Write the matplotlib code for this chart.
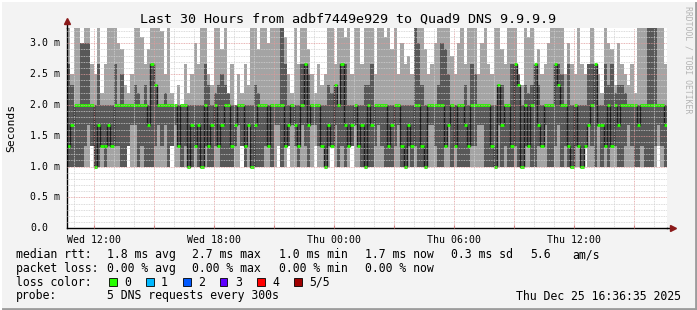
import numpy as np
import pandas as pd
import matplotlib
matplotlib.use("Agg")
import matplotlib.pyplot as plt
import matplotlib.dates as mdates
from matplotlib.ticker import MultipleLocator, FuncFormatter
from matplotlib.patches import Rectangle
from matplotlib.lines import Line2D

MONO = "DejaVu Sans Mono"

# 10 minute samples, Wed 24 Dec 10:40 -> Thu 25 Dec 16:40 (values in ms)
start = pd.Timestamp("2025-12-24 10:40")

median = [
    1.33, 1.67, 2.0, 2.0, 2.0, 2.0, 2.0, 2.0, 1.0, 1.67, 1.33, 1.33, 1.67, 1.33, 2.0, 2.0, 2.0, 2.0, 2.0, 2.0, 2.0, 2.0, 2.0, 2.0, 1.67, 2.67, 2.33, 2.0, 2.0, 2.0,
    2.0, 2.0, 2.0, 1.33, 2.0, 2.0, 1.0, 1.67, 1.33, 1.67, 1.0, 2.0, 1.33, 1.67, 2.0, 1.33, 1.67, 2.0, 2.0, 1.33, 1.67, 2.0, 2.0, 1.33, 1.67, 1.0, 1.67, 2.0, 2.0, 2.0,
    1.33, 2.0, 2.0, 2.0, 2.0, 1.33, 1.67, 2.0, 1.67, 1.33, 2.0, 2.67, 1.67, 2.0, 2.0, 2.0, 1.33, 1.0, 1.67, 1.33, 2.33, 2.0, 2.67, 1.67, 1.33, 1.67, 2.0, 1.33, 1.67, 1.0,
    2.0, 1.67, 2.0, 2.0, 2.0, 2.0, 1.33, 1.67, 2.0, 2.0, 1.33, 1.0, 1.67, 1.33, 2.0, 2.0, 1.33, 1.0, 2.0, 2.0, 2.0, 2.0, 2.0, 1.33, 1.67, 2.0, 1.33, 2.0, 2.0, 1.67,
    1.33, 2.0, 2.0, 2.0, 2.0, 2.0, 2.0, 1.33, 1.0, 2.33, 1.67, 2.0, 2.0, 1.33, 2.67, 2.33, 1.0, 2.0, 1.33, 2.0, 2.67, 1.67, 1.33, 2.0, 2.0, 2.0, 2.67, 2.33, 2.0, 2.0,
    1.33, 1.0, 2.0, 1.33, 1.0, 1.33, 1.67, 2.0, 2.67, 1.67, 1.67, 1.33, 2.0, 1.33, 2.0, 1.67, 2.0, 2.0, 2.0, 2.0, 2.0, 1.67, 2.0, 2.0, 2.0, 2.0, 2.0, 2.0, 2.0, 1.67,
]

# slowest ping (3.4 = off the top of the graph)
ping_max = [
    3.4, 2.5, 3.4, 3.4, 2.8, 3.4, 3.4, 2.67, 2.5, 3.4, 2.2, 2.67, 3.4, 3.4, 3.4, 3.0, 2.9, 2.33, 2.2, 2.5, 3.4, 3.4, 3.1, 2.67, 2.9, 3.4, 3.4, 3.4, 3.2, 2.5,
    3.4, 2.2, 2.0, 2.33, 2.0, 2.67, 2.2, 2.5, 3.0, 2.67, 3.4, 3.4, 2.5, 2.33, 3.4, 3.4, 2.9, 3.4, 2.2, 2.67, 2.0, 2.5, 2.2, 2.67, 2.33, 3.4, 3.4, 2.9, 3.4, 3.4,
    3.0, 3.4, 3.4, 3.4, 3.4, 3.1, 2.5, 2.2, 3.4, 2.67, 3.4, 3.4, 2.9, 2.5, 2.2, 2.67, 2.33, 2.5, 3.4, 3.4, 2.67, 3.4, 3.4, 3.1, 3.4, 2.5, 3.4, 3.4, 2.67, 3.4,
    3.4, 3.4, 2.5, 3.4, 3.4, 3.1, 3.4, 2.9, 3.4, 2.5, 3.0, 2.67, 2.8, 2.5, 3.4, 3.4, 3.4, 2.9, 2.5, 2.67, 3.0, 3.4, 3.4, 3.4, 3.4, 2.8, 2.5, 3.0, 3.4, 2.67,
    3.4, 3.4, 3.4, 2.5, 3.0, 3.4, 2.67, 2.5, 3.4, 3.4, 2.9, 2.67, 3.4, 3.4, 3.4, 2.5, 2.33, 3.4, 3.1, 3.4, 2.67, 2.9, 2.5, 2.67, 3.0, 3.4, 3.4, 3.4, 3.4, 2.5,
    3.0, 2.67, 2.5, 3.4, 2.67, 2.5, 2.33, 3.4, 2.67, 2.5, 2.2, 3.4, 3.0, 2.9, 2.33, 3.0, 2.67, 2.5, 2.33, 2.67, 2.2, 3.4, 3.4, 3.4, 3.4, 3.4, 3.1, 3.4, 3.4, 2.67,
]

# 4th ping (top of the dark smoke)
ping_hi = [
    2.67, 2.33, 2.0, 2.0, 3.0, 3.0, 3.0, 2.0, 2.0, 2.67, 2.0, 2.0, 2.0, 2.0, 2.67, 2.0, 2.5, 2.0, 2.0, 2.0, 2.33, 2.2, 2.0, 2.33, 2.0, 2.67, 2.33, 2.0, 2.0, 2.2,
    2.0, 2.0, 2.0, 2.0, 2.0, 2.0, 2.0, 2.0, 2.0, 2.0, 2.0, 2.67, 2.33, 2.0, 2.2, 2.33, 2.5, 2.33, 2.2, 2.0, 2.0, 2.0, 2.0, 2.0, 2.0, 2.0, 2.33, 2.2, 2.0, 2.0,
    2.0, 2.0, 2.0, 2.0, 3.4, 2.67, 2.0, 2.0, 2.0, 2.0, 2.67, 2.67, 2.5, 2.0, 2.0, 2.0, 2.0, 2.0, 2.33, 2.2, 2.0, 2.0, 2.67, 2.67, 2.0, 2.0, 2.0, 2.0, 2.0, 2.33,
    2.33, 2.67, 2.0, 2.0, 2.0, 2.0, 2.0, 2.0, 2.0, 2.0, 2.0, 2.0, 2.0, 2.0, 3.4, 3.0, 2.33, 2.0, 2.0, 2.0, 2.0, 2.33, 3.0, 2.9, 2.5, 2.0, 2.0, 2.0, 2.0, 2.33,
    2.0, 2.67, 2.5, 2.0, 2.0, 2.0, 2.0, 2.0, 2.0, 2.0, 2.33, 2.0, 2.0, 2.67, 2.67, 2.5, 2.0, 2.33, 2.2, 2.33, 2.67, 2.33, 2.0, 2.0, 2.0, 2.0, 2.0, 2.67, 2.5, 2.0,
    2.67, 2.0, 2.0, 2.0, 2.0, 2.0, 2.67, 2.67, 2.5, 2.0, 2.0, 2.67, 2.33, 2.67, 2.2, 2.33, 2.33, 2.2, 2.0, 2.0, 2.0, 2.0, 2.0, 2.0, 3.4, 3.4, 3.4, 2.0, 2.0, 2.0,
]

# 2nd ping (bottom of the dark smoke)
ping_lo = [
    1.0, 1.0, 1.0, 1.0, 1.0, 1.33, 1.67, 1.33, 1.0, 1.0, 1.33, 1.0, 1.33, 1.67, 1.33, 1.33, 1.0, 1.0, 1.33, 1.67, 1.67, 1.0, 1.33, 1.0, 1.0, 1.0, 1.33, 1.67, 1.33, 1.67,
    1.0, 1.33, 1.67, 1.67, 1.0, 1.33, 1.33, 1.0, 1.33, 1.0, 1.0, 1.33, 1.0, 1.0, 1.33, 1.67, 1.0, 1.0, 1.0, 1.0, 1.33, 1.67, 1.33, 1.0, 1.67, 1.0, 1.0, 1.0, 1.0, 1.33,
    1.33, 1.0, 1.67, 1.67, 1.0, 1.33, 1.33, 1.67, 1.33, 1.0, 1.67, 1.33, 1.0, 1.67, 1.67, 1.33, 1.33, 1.0, 1.33, 1.67, 1.67, 1.0, 1.33, 1.0, 1.67, 1.33, 1.67, 1.33, 1.0, 1.67,
    1.0, 1.0, 1.33, 1.67, 1.33, 1.0, 1.0, 1.0, 1.33, 1.67, 1.0, 1.0, 1.33, 1.0, 1.33, 1.0, 1.0, 1.33, 1.67, 1.67, 1.33, 1.0, 1.0, 1.33, 1.67, 1.0, 1.33, 1.0, 1.0, 1.0,
    1.0, 1.33, 1.33, 1.67, 1.67, 1.0, 1.0, 1.0, 1.33, 1.67, 1.0, 1.33, 1.0, 1.0, 1.33, 1.0, 1.0, 1.33, 1.67, 1.0, 1.0, 1.33, 1.67, 1.67, 1.0, 1.0, 1.33, 1.67, 1.0, 1.33,
    1.0, 1.0, 1.33, 1.33, 1.0, 1.33, 1.67, 1.33, 1.0, 1.67, 1.0, 1.33, 1.0, 1.67, 1.33, 1.0, 1.0, 1.33, 1.67, 1.33, 1.0, 1.0, 1.33, 1.0, 1.0, 1.0, 1.33, 1.67, 1.33, 1.0,
]

# fastest ping
ping_min = [
    1.0, 1.0, 1.0, 1.0, 1.0, 1.0, 1.0, 1.33, 1.0, 1.0, 1.0, 1.33, 1.0, 1.0, 1.0, 1.0, 1.0, 1.0, 1.33, 1.0, 1.0, 1.0, 1.0, 1.0, 1.0, 1.0, 1.0, 1.0, 1.0, 1.0,
    1.0, 1.33, 1.0, 1.0, 1.0, 1.0, 1.0, 1.33, 1.0, 1.0, 1.0, 1.0, 1.0, 1.0, 1.0, 1.0, 1.0, 1.0, 1.0, 1.0, 1.0, 1.0, 1.33, 1.0, 1.0, 1.0, 1.0, 1.0, 1.0, 1.0,
    1.0, 1.0, 1.0, 1.33, 1.0, 1.0, 1.33, 1.0, 1.0, 1.0, 1.0, 1.0, 1.0, 1.0, 1.33, 1.0, 1.0, 1.0, 1.0, 1.33, 1.0, 1.0, 1.0, 1.0, 1.0, 1.33, 1.0, 1.0, 1.0, 1.0,
    1.0, 1.0, 1.0, 1.0, 1.0, 1.0, 1.33, 1.0, 1.0, 1.0, 1.0, 1.0, 1.0, 1.33, 1.0, 1.0, 1.0, 1.0, 1.0, 1.0, 1.0, 1.0, 1.0, 1.0, 1.0, 1.33, 1.0, 1.0, 1.33, 1.0,
    1.0, 1.0, 1.0, 1.0, 1.0, 1.33, 1.0, 1.0, 1.0, 1.0, 1.0, 1.0, 1.0, 1.0, 1.0, 1.0, 1.0, 1.0, 1.0, 1.33, 1.0, 1.0, 1.0, 1.0, 1.0, 1.0, 1.0, 1.0, 1.33, 1.0,
    1.0, 1.0, 1.0, 1.0, 1.0, 1.33, 1.0, 1.0, 1.0, 1.0, 1.33, 1.0, 1.0, 1.0, 1.0, 1.0, 1.0, 1.0, 1.0, 1.0, 1.33, 1.0, 1.0, 1.0, 1.0, 1.0, 1.0, 1.33, 1.0, 1.0,
]

ytick_vals = [0.0, 0.5, 1.0, 1.5, 2.0, 2.5, 3.0]
ytick_labels = ["0.0", "0.5 m", "1.0 m", "1.5 m", "2.0 m", "2.5 m", "3.0 m"]

rtt_items = ["median rtt:", "1.8 ms avg", "2.7 ms max", "1.0 ms min", "1.7 ms now",
             "0.3 ms sd", "5.6", "am/s"]
loss_items = ["packet loss:", "0.00 % avg", "0.00 % max", "0.00 % min", "0.00 % now"]
probe_items = ["probe:", "5 DNS requests every 300s"]
loss_labels = ["0", "1", "2", "3", "4", "5/5"]
loss_colors = ["#26ff00", "#00b8ff", "#0059ff", "#5e00ff", "#ff0000", "#a00000"]

# make the ping ordering consistent
med = np.array(median)
hi = np.maximum(np.array(ping_hi), med)
mx = np.maximum(np.array(ping_max), hi)
lo = np.minimum(np.array(ping_lo), med)
mn = np.minimum(np.array(ping_min), lo)

n = len(med)
times = start + pd.to_timedelta(np.arange(n + 1) * 10, unit="min")
xe = mdates.date2num(times.to_pydatetime())


def ext(a):
    return np.append(a, a[-1])


W, H = 697, 310
fig = plt.figure(figsize=(W / 100, H / 100), dpi=100, facecolor="#f3f3f3")
ax = fig.add_axes([67 / W, 1 - 228.3 / H, 600 / W, 200.3 / H])
ax.set_facecolor("white")

# smoke
ax.fill_between(xe, ext(mn), ext(mx), step="post", color="#a4a4a4", lw=0)
ax.fill_between(xe, ext(lo), ext(hi), step="post", color="#585858", lw=0)
# median
ax.step(xe, ext(med), where="post", color="#1c1c1c", lw=1.0)
ax.hlines(med, xe[:-1], xe[1:], color="#26ff00", lw=2)

ax.set_xlim(xe[0], xe[-1])
ax.set_ylim(0, 3.246)

# grid
ax.yaxis.set_major_locator(MultipleLocator(0.5))
ax.yaxis.set_minor_locator(MultipleLocator(0.1))
ax.xaxis.set_major_locator(mdates.HourLocator(byhour=range(0, 24, 3)))
ax.xaxis.set_minor_locator(mdates.HourLocator())


def xfmt(v, pos):
    d = mdates.num2date(v)
    return d.strftime("%a %H:%M") if d.hour % 6 == 0 else ""


ax.xaxis.set_major_formatter(FuncFormatter(xfmt))
ax.set_axisbelow(False)
ax.grid(which="minor", color="#cfcfcf", ls=(0, (1, 1)), lw=0.6)
ax.grid(which="major", color="#e09a9a", ls=(0, (1, 1)), lw=0.6)

ax.tick_params(axis="y", which="both", length=0, labelleft=False)
ax.tick_params(axis="x", which="minor", length=0)
ax.tick_params(axis="x", which="major", length=2, direction="in", color="#d08080",
               pad=5, labelsize=7.1)
for lab in ax.get_xticklabels():
    lab.set_family(MONO)

for v, s in zip(ytick_vals, ytick_labels):
    ax.text(-37 / 600, v, s, transform=ax.get_yaxis_transform(), ha="left",
            va="center", family=MONO, fontsize=7.1)

for s in ["top", "right"]:
    ax.spines[s].set_visible(False)
for s in ["left", "bottom"]:
    ax.spines[s].set_color("black")
    ax.spines[s].set_linewidth(1)

# axis extensions with arrows
ax.add_line(Line2D([0, 0], [1, 1.03], transform=ax.transAxes, color="black",
                   lw=1, clip_on=False))
ax.add_line(Line2D([1, 1.008], [0, 0], transform=ax.transAxes, color="black",
                   lw=1, clip_on=False))
ax.plot([0], [1.035], marker="^", ms=4, color="#8b1a1a", transform=ax.transAxes,
        clip_on=False)
ax.plot([1.01], [0], marker=">", ms=4, color="#8b1a1a", transform=ax.transAxes,
        clip_on=False)

# texts
fig.text(0.5, 1 - 19.3 / H, "Last 30 Hours from adbf7449e929 to Quad9 DNS 9.9.9.9",
         ha="center", va="center", family=MONO, fontsize=9.6)
fig.text(11 / W, 1 - 128 / H, "Seconds", rotation=90, ha="center", va="center",
         family=MONO, fontsize=8.2)
fig.text(688 / W, 1 - 60 / H, "RRDTOOL / TOBI OETIKER", rotation=270, ha="center",
         va="center", family=MONO, fontsize=5.9, color="#b4b4b4")

FS = 8.3
rtt_x = [16, 107, 192, 279, 365, 451, 530, 572]
for x, s in zip(rtt_x, rtt_items):
    fig.text(x / W, 1 - 254.7 / H, s, ha="left", va="center", family=MONO, fontsize=FS)
for x, s in zip(rtt_x, loss_items):
    fig.text(x / W, 1 - 268.3 / H, s, ha="left", va="center", family=MONO, fontsize=FS)
fig.text(16 / W, 1 - 282.3 / H, "loss color:", ha="left", va="center", family=MONO,
         fontsize=FS)
for x, s in zip(rtt_x, probe_items):
    fig.text(x / W, 1 - 296 / H, s, ha="left", va="center", family=MONO, fontsize=FS)

box_x = [109, 146, 183, 220, 257, 294]
for bx, c, s in zip(box_x, loss_colors, loss_labels):
    fig.add_artist(Rectangle((bx / W, 1 - 286.3 / H), 7.5 / W, 8 / H,
                             transform=fig.transFigure, facecolor=c,
                             edgecolor="black", lw=0.6))
    fig.text((bx + 15) / W, 1 - 282.3 / H, s, ha="left", va="center",
             family=MONO, fontsize=FS)

fig.text(681 / W, 1 - 296 / H, "Thu Dec 25 16:36:35 2025", ha="right", va="center",
         family=MONO, fontsize=FS)

# bevelled border
fig.add_artist(Line2D([0, 1], [1.5 / H, 1.5 / H], transform=fig.transFigure,
                      color="#9c9c9c", lw=2))
fig.add_artist(Line2D([1 - 1.5 / W, 1 - 1.5 / W], [0, 1], transform=fig.transFigure,
                      color="#9c9c9c", lw=2))
fig.add_artist(Line2D([0, 1], [1 - 1 / H, 1 - 1 / H], transform=fig.transFigure,
                      color="#ffffff", lw=1.5))
fig.add_artist(Line2D([1 / W, 1 / W], [0, 1], transform=fig.transFigure,
                      color="#ffffff", lw=1.5))

fig.savefig("out.png", dpi=100, facecolor=fig.get_facecolor())
